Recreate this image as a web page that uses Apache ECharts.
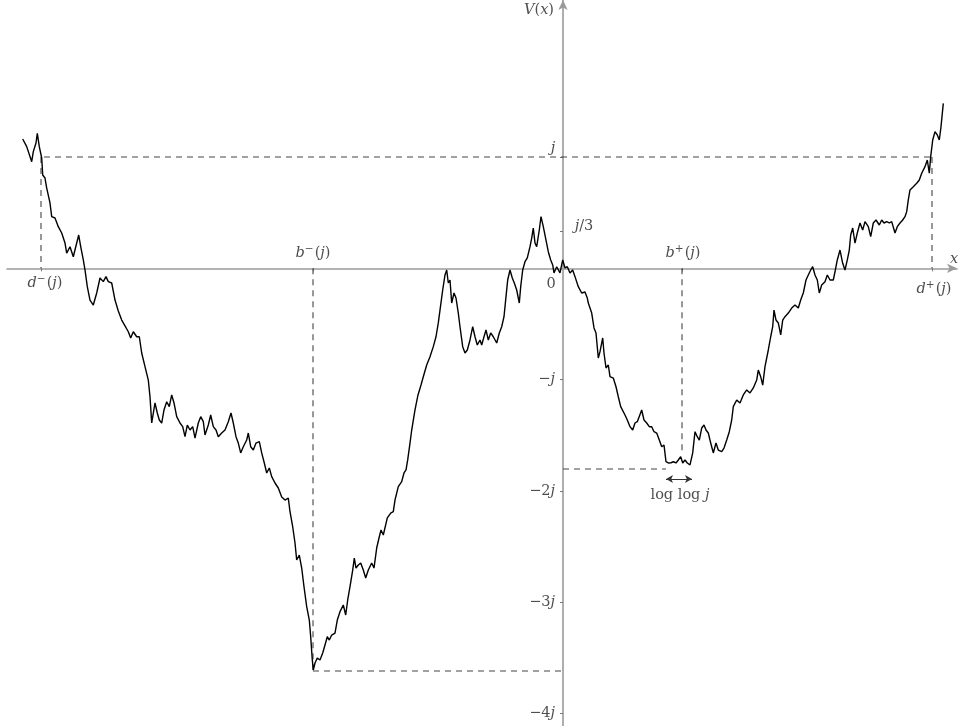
<!DOCTYPE html>
<html><head><meta charset="utf-8">
<script src="https://cdn.jsdelivr.net/npm/echarts@6/dist/echarts.min.js"></script>
<style>html,body{margin:0;padding:0;background:#fff}#c{width:959px;height:726px}</style>
</head><body><div id="c"></div>
<script>
// V(x): x in arbitrary units (origin at 0), y in units of j
const pathX = [-540.3,-536.3,-531.3,-529.7,-527,-525.7,-523.7,-521.3,-520.3,-518,-516.3,-513,-511.3,-508,-504.7,-503,-501.3,-498,-496.3,-493,-489.7,-486.3,-484.3,-482.3,-479.7,-478,-475.7,-473,-469.7,-466.3,-463,-459.7,-457,-454.7,-451.3,-448,-444.7,-441.3,-438,-434.7,-432.3,-429.7,-426.3,-423.7,-421.3,-418,-414.7,-413,-411.3,-408,-405.7,-403.7,-401.3,-399,-396.3,-393.7,-391.3,-389,-386.3,-383,-380.3,-378,-375.7,-373,-370.3,-368,-364.7,-362.3,-359.7,-358,-354.7,-352.3,-349.7,-347,-344.7,-341.3,-338,-334.7,-332,-329.7,-327,-324.7,-322.3,-319.7,-316.3,-314.7,-312.3,-309.7,-307,-303.7,-301.3,-298.7,-296.3,-293.7,-291.3,-288,-284.7,-281.3,-278,-274.7,-273,-270.3,-268,-266.3,-263.7,-261.3,-259,-256.3,-253.7,-252.3,-250.7,-249.7,-248,-245.7,-243,-240.3,-238,-235.7,-233.7,-231.3,-228,-225.7,-223,-219.7,-217.3,-215.3,-213,-210.3,-208.7,-207,-204.7,-202.3,-199.7,-197.3,-194.7,-191.3,-189,-186.3,-184,-182,-179.7,-177.7,-175.7,-172.3,-169.7,-168,-164.7,-161.3,-159,-157,-155.3,-153,-151.3,-148,-145,-142,-139.7,-136.3,-133,-129.7,-127,-124.7,-123,-120.3,-118,-116.3,-114.7,-113,-111.3,-109,-107,-104.7,-103,-100.3,-98,-95.7,-93,-90.3,-88,-85.7,-83,-81.3,-79,-77,-74.7,-72.3,-69.7,-66.3,-63.7,-61.3,-59,-57,-55.3,-53,-50.7,-48.7,-46.3,-43.7,-42.3,-40.3,-38,-35.7,-33,-31.3,-29.7,-28,-26.3,-23.7,-22,-19.7,-17,-14.7,-12.3,-10.3,-9,-6.3,-3,-0.3,2,4.3,7,9.7,12,15.3,18.7,22,24.3,25.3,28.7,31,33,35.3,37,39.7,41,43,45.3,47,50.3,53,55.3,57.7,59.7,62,64.3,67,69.7,72,74.3,76.3,78.7,81,83.7,86.3,88.7,91,93.7,96.3,98.7,101,103,105.3,108,110.3,113,115.3,117.7,119.7,122,124.3,127,129.7,132,134.3,136.3,138.7,141,143,145.3,147.7,150.3,153,155.3,158.7,161,163.7,166.3,168.7,170.3,173.7,177,180.3,183.7,187,190.3,193.7,195.3,197.7,199.7,202,205.3,207.7,209.7,211,213,215.3,217.7,219.7,222,225.3,228.7,232,235.3,237.7,240.3,243,245.3,247.7,249.7,252,254.3,256.3,258.7,262,264.3,267,270.3,272,274.3,277,279.7,282,284.3,286.3,287.7,289.7,292,294.3,297,299.7,302,305.3,307.7,310.3,313,316.3,318.7,321,323.7,326.3,328.7,332,334.3,337,339.7,342,343.7,345.3,347,350.3,353.7,356.3,358.7,362,364.3,366.3,367.7,369.7,372,374.3,376.3,378,380.3];
const pathY = [1.162,1.093,0.958,1.048,1.126,1.213,1.093,0.991,0.838,0.811,0.721,0.587,0.464,0.452,0.374,0.389,0.317,0.227,0.137,0.194,0.104,0.227,0.299,0.194,0.075,-0.015,-0.165,-0.285,-0.330,-0.222,-0.087,-0.120,-0.075,-0.120,-0.132,-0.285,-0.384,-0.465,-0.518,-0.570,-0.626,-0.570,-0.615,-0.615,-0.761,-0.884,-1.004,-1.154,-1.390,-1.210,-1.300,-1.363,-1.390,-1.273,-1.199,-1.243,-1.138,-1.210,-1.333,-1.390,-1.423,-1.513,-1.408,-1.453,-1.423,-1.525,-1.390,-1.333,-1.378,-1.498,-1.408,-1.318,-1.423,-1.453,-1.513,-1.480,-1.453,-1.378,-1.300,-1.390,-1.513,-1.570,-1.659,-1.603,-1.543,-1.480,-1.603,-1.633,-1.570,-1.558,-1.659,-1.749,-1.839,-1.794,-1.872,-1.929,-1.974,-2.055,-2.082,-2.064,-2.187,-2.322,-2.468,-2.621,-2.576,-2.693,-2.861,-3.040,-3.160,-3.310,-3.519,-3.609,-3.546,-3.501,-3.519,-3.456,-3.385,-3.310,-3.340,-3.295,-3.277,-3.160,-3.085,-3.025,-3.115,-2.980,-2.861,-2.711,-2.603,-2.693,-2.666,-2.648,-2.711,-2.783,-2.711,-2.648,-2.693,-2.513,-2.423,-2.351,-2.396,-2.411,-2.243,-2.199,-2.187,-2.082,-1.962,-1.917,-1.839,-1.812,-1.722,-1.570,-1.453,-1.273,-1.138,-1.049,-0.974,-0.869,-0.794,-0.704,-0.615,-0.491,-0.375,-0.195,-0.060,-0.015,-0.132,-0.105,-0.312,-0.222,-0.267,-0.402,-0.525,-0.704,-0.761,-0.734,-0.644,-0.525,-0.615,-0.689,-0.644,-0.689,-0.615,-0.554,-0.644,-0.581,-0.615,-0.671,-0.581,-0.525,-0.435,-0.255,-0.105,-0.015,-0.087,-0.132,-0.195,-0.312,-0.165,-0.015,0.059,0.093,0.194,0.272,0.362,0.227,0.194,0.344,0.464,0.374,0.254,0.149,0.075,0.030,-0.042,0.014,-0.042,0.075,0.003,0.014,-0.042,-0.015,-0.075,-0.165,-0.222,-0.213,-0.267,-0.312,-0.402,-0.536,-0.581,-0.806,-0.749,-0.626,-0.761,-0.896,-0.869,-0.974,-0.986,-1.064,-1.154,-1.243,-1.228,-1.318,-1.363,-1.423,-1.453,-1.390,-1.378,-1.363,-1.273,-1.363,-1.390,-1.423,-1.423,-1.468,-1.480,-1.543,-1.603,-1.588,-1.738,-1.749,-1.747,-1.738,-1.749,-1.722,-1.693,-1.749,-1.722,-1.749,-1.767,-1.659,-1.468,-1.513,-1.543,-1.435,-1.408,-1.453,-1.480,-1.570,-1.659,-1.570,-1.633,-1.648,-1.615,-1.543,-1.468,-1.363,-1.243,-1.183,-1.210,-1.138,-1.093,-1.120,-1.075,-1.004,-0.914,-0.974,-1.049,-0.884,-0.734,-0.615,-0.525,-0.375,-0.465,-0.491,-0.599,-0.465,-0.435,-0.402,-0.357,-0.330,-0.357,-0.285,-0.222,-0.105,-0.060,-0.015,0.014,-0.060,-0.105,-0.222,-0.150,-0.120,-0.060,-0.105,-0.105,-0.031,0.075,0.164,0.045,-0.015,0.075,0.164,0.299,0.362,0.227,0.317,0.407,0.344,0.419,0.374,0.284,0.407,0.434,0.389,0.434,0.407,0.419,0.407,0.419,0.317,0.374,0.407,0.434,0.464,0.509,0.614,0.704,0.733,0.764,0.793,0.854,0.913,0.973,0.854,1.003,1.153,1.227,1.198,1.153,1.272,1.482];

// key abscissae and levels
const dMinus = -522, bMinus = -250, bPlus = 119, dPlus = 369;
const levelJ = 1, jDashStart = -519;
const minLeft = -3.618, minRight = -1.803, rightMinEnd = 103, bPlusBottom = -1.66;
const arrowFrom = 103, arrowTo = 129, arrowLevel = -1.893;

// tick values / labels on the V axis
const yTickValues = [1, 1/3, -1, -2, -3, -4];
const yLabelValues = [-1, -2, -3, -4];
const yLabelText = ['{n|−}{v|j}', '{n|−2}{v|j}', '{n|−3}{v|j}', '{n|−4}{v|j}'];
const yLabelX = -8;
const xTickValues = [dMinus, bMinus, bPlus, dPlus];

// annotations: [x, y, rich text]
const notes = [
  [-24, 2.321, '{v|V}{n|(}{v|x}{n|)}'],
  [391, 0.084, '{v|x}'],
  [-518, -0.132, '{v|d}{s|−}{n|(}{v|j}{n|)}'],
  [-250, 0.138, '{v|b}{s|−}{n|(}{v|j}{n|)}'],
  [-12, -0.141, '{n|0}'],
  [120, 0.138, '{v|b}{s|+}{n|(}{v|j}{n|)}'],
  [371, -0.186, '{v|d}{s|+}{n|(}{v|j}{n|)}'],
  [-10, 1.075, '{v|j}'],
  [21, 0.380, '{v|j}{n|/3}'],
  [117, -2.036, '{n|log log }{v|j}']
];

const FONT = 'DejaVu Serif';
const TXT = '#222';
const rich = {
  n: {fontFamily: FONT, fontSize: 14.5, color: TXT, lineHeight: 18},
  v: {fontFamily: FONT, fontSize: 14.5, fontStyle: 'italic', color: TXT, lineHeight: 18},
  s: {fontFamily: FONT, fontSize: 10.5, color: TXT, lineHeight: 11, verticalAlign: 'top', padding: [0, 1, 0, 0]}
};

const dash = {type: [6, 5], color: '#444', width: 1.1};
function seg(pts) {
  return {type: 'line', data: pts, showSymbol: false, symbol: 'none', silent: true,
          lineStyle: dash, z: 1};
}

const chart = echarts.init(document.getElementById('c'), null, {renderer: 'canvas'});
chart.setOption({
  animation: false,
  backgroundColor: '#fff',
  grid: {left: 7, right: 2, top: 0, bottom: 0, containLabel: false, outerBoundsMode: 'none'},
  xAxis: {
    type: 'value', min: -556, max: 394,
    axisLine: {onZero: true, symbol: ['none', 'arrow'], symbolSize: [7, 10],
               lineStyle: {color: '#9a9a9a', width: 1.6}},
    axisTick: {show: true, customValues: xTickValues, length: 3, lineStyle: {color: '#777'}},
    axisLabel: {show: false},
    splitLine: {show: false}
  },
  yAxis: {
    type: 'value', min: -4.1123, max: 2.4106,
    axisLine: {onZero: true, symbol: ['none', 'arrow'], symbolSize: [7, 10],
               lineStyle: {color: '#9a9a9a', width: 1.6}},
    axisTick: {show: true, customValues: yTickValues, length: 3, lineStyle: {color: '#777'}},
    axisLabel: {show: false},
    splitLine: {show: false}
  },
  series: [
    seg([[jDashStart, levelJ], [dPlus, levelJ]]),
    seg([[dMinus, levelJ], [dMinus, 0]]),
    seg([[dPlus, levelJ], [dPlus, 0]]),
    seg([[bMinus, 0], [bMinus, minLeft]]),
    seg([[bMinus, minLeft], [0, minLeft]]),
    seg([[bPlus, 0], [bPlus, bPlusBottom]]),
    seg([[0, minRight], [rightMinEnd, minRight]]),
    {
      type: 'line', data: pathX.map((x, i) => [x, pathY[i]]), showSymbol: false, symbol: 'none',
      lineStyle: {color: '#000', width: 1.4}, z: 3,
      markLine: {
        silent: true, symbol: ['arrow', 'arrow'], symbolSize: [6, 7],
        label: {show: false},
        lineStyle: {color: '#333', width: 1, type: 'solid'},
        data: [[{coord: [arrowFrom, arrowLevel]}, {coord: [arrowTo, arrowLevel]}]]
      }
    },
    {
      type: 'scatter', symbolSize: 0, silent: true, z: 5,
      data: notes.map(n => ({value: [n[0], n[1]], label: {formatter: n[2]}})),
      label: {show: true, position: [0, 0], align: 'center', verticalAlign: 'middle', rich: rich}
    },
    {
      type: 'scatter', symbolSize: 0, silent: true, z: 5,
      data: yLabelValues.map((v, i) => ({value: [yLabelX, v], label: {formatter: yLabelText[i]}})),
      label: {show: true, position: [0, 0], align: 'right', verticalAlign: 'middle', rich: rich}
    }
  ]
});
</script>
</body></html>
